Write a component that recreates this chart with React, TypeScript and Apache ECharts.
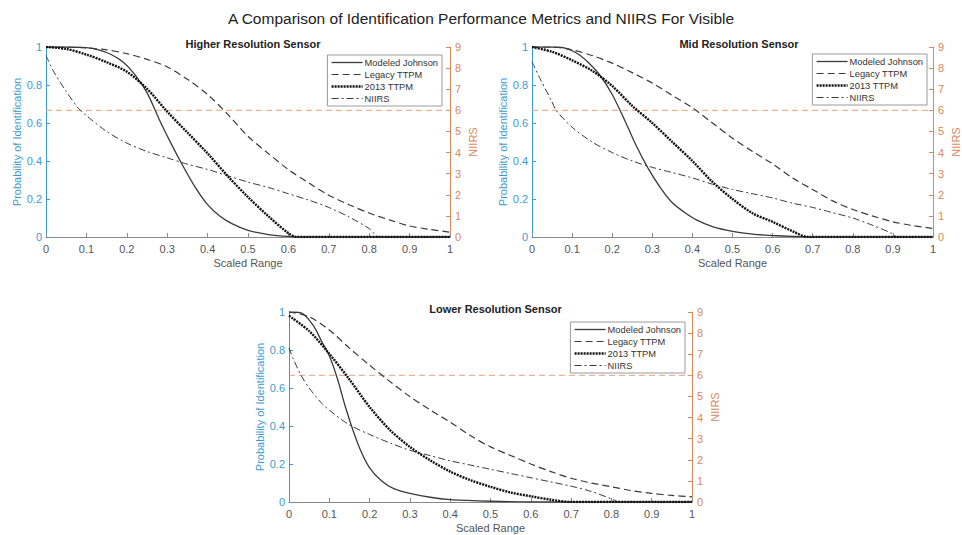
import React, { useEffect, useRef } from "react";
import * as echarts from "echarts";

// ---------- Data ----------
const mainTitle = "A Comparison of Identification Performance Metrics and NIIRS For Visible";
const panelTitles = ["Higher Resolution Sensor", "Mid Resolution Sensor", "Lower Resolution Sensor"];
const seriesNames = ["Modeled Johnson", "Legacy TTPM", "2013 TTPM", "NIIRS"];

// Higher resolution
const hiJohnsonX = [0, 0.05, 0.1, 0.13, 0.16, 0.19, 0.22, 0.25, 0.28, 0.31, 0.34, 0.37, 0.4, 0.43, 0.46, 0.5, 0.55, 0.6, 0.65, 1];
const hiJohnsonY = [1, 1, 0.997, 0.985, 0.962, 0.922, 0.855, 0.76, 0.62, 0.49, 0.37, 0.26, 0.17, 0.11, 0.07, 0.035, 0.013, 0.003, 0, 0];
const hiLegacyX = [0, 0.05, 0.1, 0.15, 0.2, 0.25, 0.3, 0.35, 0.4, 0.45, 0.5, 0.55, 0.6, 0.65, 0.7, 0.75, 0.8, 0.85, 0.9, 0.95, 1];
const hiLegacyY = [1, 1, 0.995, 0.985, 0.965, 0.935, 0.895, 0.83, 0.75, 0.645, 0.53, 0.44, 0.355, 0.285, 0.22, 0.17, 0.126, 0.09, 0.058, 0.04, 0.025];
const hi2013X = [0, 0.05, 0.1, 0.15, 0.2, 0.25, 0.3, 0.35, 0.4, 0.45, 0.5, 0.55, 0.6, 0.62, 1];
const hi2013Y = [1, 0.99, 0.96, 0.92, 0.87, 0.78, 0.66, 0.55, 0.44, 0.32, 0.21, 0.11, 0.02, 0, 0];
const hiNiirsX = [0, 0.02, 0.05, 0.08, 0.1, 0.15, 0.2, 0.25, 0.3, 0.35, 0.4, 0.45, 0.5, 0.55, 0.6, 0.65, 0.7, 0.75, 0.8, 0.825, 1];
const hiNiirsY = [8.6, 7.8, 6.9, 6.1, 5.75, 5.0, 4.45, 4.05, 3.75, 3.45, 3.2, 2.9, 2.6, 2.35, 2.05, 1.75, 1.4, 0.95, 0.4, 0, 0];

// Mid resolution
const midJohnsonX = [0, 0.05, 0.08, 0.11, 0.14, 0.17, 0.2, 0.23, 0.26, 0.29, 0.32, 0.35, 0.38, 0.41, 0.45, 0.5, 0.55, 0.6, 0.65, 0.7, 1];
const midJohnsonY = [1, 1, 0.995, 0.97, 0.92, 0.85, 0.75, 0.62, 0.48, 0.36, 0.26, 0.18, 0.13, 0.09, 0.055, 0.03, 0.015, 0.008, 0.003, 0, 0];
const midLegacyX = [0, 0.05, 0.1, 0.15, 0.2, 0.25, 0.3, 0.35, 0.4, 0.45, 0.5, 0.55, 0.6, 0.65, 0.7, 0.75, 0.8, 0.85, 0.9, 0.95, 1];
const midLegacyY = [1, 1, 0.985, 0.955, 0.915, 0.865, 0.81, 0.745, 0.68, 0.6, 0.52, 0.45, 0.385, 0.31, 0.25, 0.19, 0.145, 0.11, 0.08, 0.06, 0.045];
const mid2013X = [0, 0.05, 0.1, 0.15, 0.2, 0.25, 0.3, 0.35, 0.4, 0.45, 0.5, 0.55, 0.6, 0.65, 0.69, 1];
const mid2013Y = [1, 0.975, 0.93, 0.875, 0.795, 0.69, 0.6, 0.5, 0.4, 0.29, 0.2, 0.125, 0.08, 0.03, 0, 0];
const midNiirsX = [0, 0.02, 0.05, 0.06, 0.1, 0.15, 0.2, 0.25, 0.3, 0.35, 0.4, 0.45, 0.5, 0.55, 0.6, 0.65, 0.7, 0.75, 0.8, 0.85, 0.9, 0.91, 1];
const midNiirsY = [8.3, 7.5, 6.4, 6.0, 5.2, 4.5, 4.0, 3.6, 3.3, 3.05, 2.8, 2.5, 2.25, 2.05, 1.85, 1.6, 1.4, 1.15, 0.9, 0.55, 0.15, 0, 0];

// Lower resolution
const loJohnsonX = [0, 0.03, 0.06, 0.08, 0.1, 0.12, 0.14, 0.16, 0.18, 0.2, 0.23, 0.26, 0.3, 0.35, 0.4, 0.5, 0.6, 1];
const loJohnsonY = [1, 0.995, 0.93, 0.85, 0.77, 0.65, 0.5, 0.37, 0.26, 0.18, 0.11, 0.07, 0.045, 0.025, 0.013, 0.004, 0, 0];
const loLegacyX = [0, 0.05, 0.1, 0.15, 0.2, 0.25, 0.3, 0.35, 0.4, 0.45, 0.5, 0.55, 0.6, 0.65, 0.7, 0.75, 0.8, 0.85, 0.9, 0.95, 1];
const loLegacyY = [1, 0.975, 0.905, 0.81, 0.72, 0.635, 0.555, 0.485, 0.42, 0.35, 0.29, 0.245, 0.2, 0.16, 0.125, 0.1, 0.08, 0.06, 0.045, 0.035, 0.027];
const lo2013X = [0, 0.05, 0.1, 0.15, 0.2, 0.25, 0.3, 0.35, 0.4, 0.45, 0.5, 0.55, 0.6, 0.65, 0.7, 1];
const lo2013Y = [0.98, 0.9, 0.78, 0.645, 0.5, 0.38, 0.29, 0.22, 0.16, 0.115, 0.08, 0.05, 0.03, 0.012, 0, 0];
const loNiirsX = [0, 0.01, 0.03, 0.05, 0.08, 0.1, 0.15, 0.2, 0.25, 0.3, 0.35, 0.4, 0.45, 0.5, 0.55, 0.6, 0.65, 0.7, 0.75, 0.8, 0.82, 1];
const loNiirsY = [7.3, 6.8, 6.0, 5.4, 4.7, 4.35, 3.65, 3.2, 2.8, 2.45, 2.2, 1.95, 1.75, 1.55, 1.35, 1.15, 0.95, 0.75, 0.5, 0.15, 0, 0];

// NIIRS threshold (right axis), spanning the full scaled range
const thresholdX = [0, 1];
const thresholdNiirs = [6, 6];

// ---------- Styles ----------
const FONT = "Liberation Sans, Arial, sans-serif";
const BLUE = "#3d9bd1";
const ORANGE = "#d9875c";
const GRAY = "#555555";

const grids = [
  { left: 46, top: 47, width: 404, height: 190 },
  { left: 532, top: 47, width: 404, height: 190 },
  { left: 289, top: 312, width: 403, height: 190 },
];
const legendPos = [
  { right: 520, top: 55 },
  { right: 35, top: 54 },
  { right: 277, top: 322 },
];

const zip = (xs: number[], ys: number[]) => xs.map((x, i) => [x, ys[i]]);

const panels = [
  [zip(hiJohnsonX, hiJohnsonY), zip(hiLegacyX, hiLegacyY), zip(hi2013X, hi2013Y), zip(hiNiirsX, hiNiirsY)],
  [zip(midJohnsonX, midJohnsonY), zip(midLegacyX, midLegacyY), zip(mid2013X, mid2013Y), zip(midNiirsX, midNiirsY)],
  [zip(loJohnsonX, loJohnsonY), zip(loLegacyX, loLegacyY), zip(lo2013X, lo2013Y), zip(loNiirsX, loNiirsY)],
];

const lineStyles = [
  { color: "#3a3a3a", width: 1.3, type: "solid" },
  { color: "#3a3a3a", width: 1.2, type: [7, 4] },
  { color: "#111111", width: 2.4, type: [2, 1] },
  { color: "#3a3a3a", width: 1, type: [7, 3, 2, 3] },
];

export default function App() {
  const ref = useRef<HTMLDivElement>(null);
  useEffect(() => {
    if (!ref.current) return;
    const chart = echarts.init(ref.current, undefined, { renderer: "svg" });

    const xAxis: any[] = [];
    const yAxis: any[] = [];
    const series: any[] = [];
    const titles: any[] = [
      {
        text: mainTitle,
        left: "center",
        top: 5,
        textStyle: { fontFamily: FONT, fontSize: 15.5, fontWeight: "normal", color: "#222" },
      },
    ];

    grids.forEach((g, gi) => {
      titles.push({
        text: panelTitles[gi],
        left: g.left + g.width / 2,
        top: g.top - 14,
        textAlign: "center",
        textStyle: { fontFamily: FONT, fontSize: 11, fontWeight: "bold", color: "#222" },
      });
      xAxis.push({
        type: "value",
        gridIndex: gi,
        min: 0,
        max: 1,
        interval: 0.1,
        name: "Scaled Range",
        nameLocation: "middle",
        nameGap: 20,
        nameTextStyle: { fontFamily: FONT, fontSize: 11, color: GRAY },
        axisLine: { onZero: false, lineStyle: { color: "#8a8a8a", width: 1 } },
        axisTick: { inside: true, length: 4, lineStyle: { color: "#8a8a8a" } },
        axisLabel: { fontFamily: FONT, fontSize: 11, color: GRAY, margin: 6 },
        splitLine: { show: false },
      });
      yAxis.push({
        type: "value",
        gridIndex: gi,
        position: "left",
        min: 0,
        max: 1,
        interval: 0.2,
        name: "Probability of Identification",
        nameLocation: "middle",
        nameRotate: 90,
        nameGap: 23,
        nameTextStyle: { fontFamily: FONT, fontSize: 11, color: BLUE },
        axisLine: { show: true, onZero: false, lineStyle: { color: BLUE, width: 1 } },
        axisTick: { show: true, inside: true, length: 4, lineStyle: { color: BLUE } },
        axisLabel: { fontFamily: FONT, fontSize: 11, color: BLUE, margin: 4 },
        splitLine: { show: false },
      });
      yAxis.push({
        type: "value",
        gridIndex: gi,
        position: "right",
        min: 0,
        max: 9,
        interval: 1,
        name: "NIIRS",
        nameLocation: "middle",
        nameRotate: 90,
        nameGap: 17,
        nameTextStyle: { fontFamily: FONT, fontSize: 11, color: ORANGE },
        axisLine: { show: true, onZero: false, lineStyle: { color: ORANGE, width: 1 } },
        axisTick: { show: true, inside: true, length: 4, lineStyle: { color: ORANGE } },
        axisLabel: { fontFamily: FONT, fontSize: 11, color: ORANGE, margin: 5 },
        splitLine: { show: false },
      });

      // threshold line (drawn first, underneath the curves)
      series.push({
        type: "line",
        xAxisIndex: gi,
        yAxisIndex: gi * 2 + 1,
        data: zip(thresholdX, thresholdNiirs),
        symbol: "none",
        silent: true,
        lineStyle: { color: "#eb9f7f", width: 1, type: [6, 4] },
        z: 1,
      });

      panels[gi].forEach((data, si) => {
        series.push({
          type: "line",
          name: seriesNames[si],
          xAxisIndex: gi,
          yAxisIndex: si === 3 ? gi * 2 + 1 : gi * 2,
          data,
          symbol: "none",
          smooth: 0.3,
          lineStyle: lineStyles[si],
          itemStyle: { color: lineStyles[si].color },
          z: si === 2 ? 3 : 2,
          silent: true,
        });
      });
    });

    const legends = legendPos.map((p) => ({
      orient: "vertical",
      right: p.right,
      top: p.top,
      data: seriesNames,
      itemWidth: 31,
      itemHeight: 10,
      itemGap: 3,
      padding: [3, 4, 3, 3],
      backgroundColor: "#ffffff",
      borderColor: "#9a9a9a",
      borderWidth: 1,
      borderRadius: 0,
      selectedMode: false,
      itemStyle: { opacity: 0 },
      lineStyle: { width: "inherit" },
      textStyle: { fontFamily: FONT, fontSize: 9.3, color: "#333", padding: [0, 0, 0, -3] },
    }));

    chart.setOption({
      animation: false,
      backgroundColor: "#ffffff",
      title: titles,
      grid: grids.map((g) => ({ ...g, containLabel: false })),
      xAxis,
      yAxis,
      legend: legends,
      series,
    });
    return () => chart.dispose();
  }, []);

  return (
    <div
      ref={ref}
      style={{ position: "fixed", left: 0, top: 0, width: 962, height: 535 }}
    />
  );
}
